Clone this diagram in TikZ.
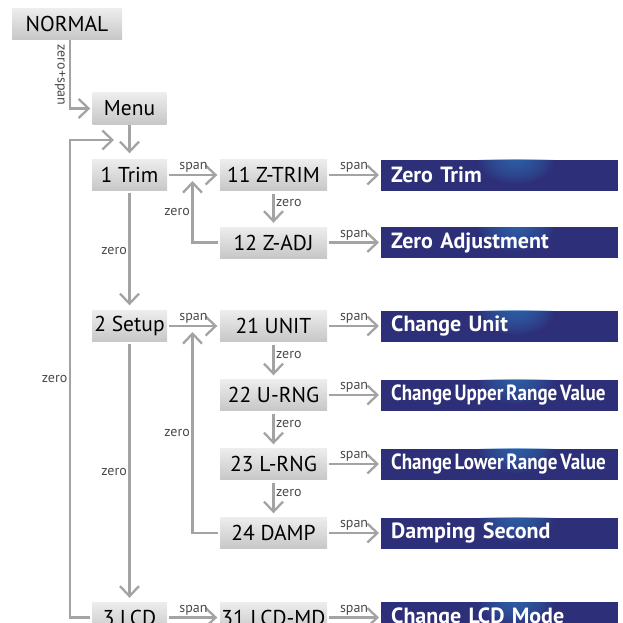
\documentclass[tikz,border=0pt]{standalone}
\usepackage{fontspec}
\usepackage{graphicx}
\setmainfont{PT Sans}
\usetikzlibrary{arrows.meta,calc}
\definecolor{linegray}{HTML}{A3A3A3}
\definecolor{navy}{HTML}{2D2F78}
\definecolor{glow}{HTML}{3A78C0}
\definecolor{labelgray}{HTML}{4A4A4A}
\definecolor{boxtop}{HTML}{EDEDED}
\definecolor{boxbot}{HTML}{C6C7C6}
\newcommand{\tightlabel}[1]{\scalebox{0.865}[1]{\spaceskip=3.2pt\relax #1}}
\tikzset{
 graybox/.style={minimum height=31pt, inner sep=0pt, top color=boxtop, bottom color=boxbot, font=\fontsize{21.5}{21.5}\selectfont, text=black},
 mainbox/.style={graybox, minimum width=75pt},
 subbox/.style={graybox, minimum width=107pt},
 bluebox/.style={minimum height=31pt, text width=217pt, inner xsep=10pt, inner ysep=0pt, align=left, fill=navy, text=white, font=\fontsize{22}{22}\selectfont\bfseries, anchor=west,
   execute at begin node={\hbox\bgroup}, execute at end node={\egroup},
   path picture={
     \coordinate (gc) at ($(path picture bounding box.north west)!0.57!(path picture bounding box.north east)$);
     \foreach \r in {1,...,14} {\fill[glow, opacity=0.075] (gc) ellipse [x radius=2.7*\r pt, y radius=1.75*\r pt];}
   }},
 arr/.style={draw=linegray, line width=2.3pt, -{Straight Barb[length=10pt,width=19pt]}},
 lbl/.style={font=\fontsize{14}{14}\selectfont, text=labelgray, inner sep=1.5pt},
}
\begin{document}
\begin{tikzpicture}[x=1pt,y=-1pt]
\useasboundingbox (0,0) rectangle (622,623);
\clip (0,0) rectangle (622,623);
% nodes
\node[graybox, minimum width=110pt] (normal) at (67,24) {NORMAL};
\node[graybox, minimum width=74pt] (menu) at (129.5,108.5) {Menu};
\node[mainbox] (trim) at (129.5,175) {1 Trim};
\node[subbox] (ztrim) at (273.5,175) {11 Z-TRIM};
\node[bluebox] (bztrim) at (381,175) {Zero Trim};
\node[subbox] (zadj) at (273.5,242.5) {12 Z-ADJ};
\node[bluebox] (bzadj) at (381,242.5) {Zero Adjustment};
\node[mainbox] (setup) at (129.5,326) {2 Setup};
\node[subbox] (unit) at (273.5,326) {21 UNIT};
\node[bluebox] (bunit) at (381,326) {Change Unit};
\node[subbox] (urng) at (273.5,395) {22 U-RNG};
\node[bluebox] (burng) at (381,395) {\tightlabel{Change Upper Range Value}};
\node[subbox] (lrng) at (273.5,464) {23 L-RNG};
\node[bluebox] (blrng) at (381,464) {\tightlabel{Change Lower Range Value}};
\node[subbox] (damp) at (273.5,533) {24 DAMP};
\node[bluebox] (bdamp) at (381,533) {Damping Second};
\node[mainbox] (lcd) at (129.5,617.5) {3 LCD};
\node[subbox] (lcdmd) at (273.5,617.5) {31 LCD-MD};
\node[bluebox] (blcdmd) at (381,617.5) {Change LCD Mode};
% helper coordinates
\coordinate (nx) at (70,0);
\coordinate (lt) at (70,140);
\coordinate (ltip) at (114,140);
\coordinate (t1) at (192.5,181);
\coordinate (t2) at (192.5,332);
% normal -> menu
\draw[arr, shorten >=2pt] (normal.south -| nx) |- (menu.west);
\node[lbl, rotate=-90] (zslbl) at (60,75) {zero+span};
% menu -> trim
\draw[arr, shorten <=1pt, shorten >=6pt] (menu) -- (trim);
% horizontal span arrows
\draw[arr, shorten <=2pt, shorten >=2.5pt] (trim) -- node[lbl, above]{span} (ztrim);
\draw[arr, shorten <=2pt, shorten >=2pt] (ztrim) -- node[lbl, above]{span} (bztrim);
\draw[arr, shorten <=2pt, shorten >=2pt] (zadj) -- node[lbl, above]{span} (bzadj);
\draw[arr, shorten <=2pt, shorten >=2.5pt] (setup) -- node[lbl, above]{span} (unit);
\draw[arr, shorten <=2pt, shorten >=2pt] (unit) -- node[lbl, above]{span} (bunit);
\draw[arr, shorten <=2pt, shorten >=2pt] (urng) -- node[lbl, above]{span} (burng);
\draw[arr, shorten <=2pt, shorten >=2pt] (lrng) -- node[lbl, above]{span} (blrng);
\draw[arr, shorten <=2pt, shorten >=2pt] (damp) -- node[lbl, above]{span} (bdamp);
\draw[arr, shorten <=2pt, shorten >=2.5pt] (lcd) -- node[lbl, above]{span} (lcdmd);
\draw[arr, shorten <=2pt, shorten >=2pt] (lcdmd) -- node[lbl, above]{span} (blcdmd);
% vertical zero arrows
\draw[arr, shorten <=3pt, shorten >=4pt] (ztrim) -- node[lbl, right, pos=0.35]{zero} (zadj);
\draw[arr, shorten <=3pt, shorten >=4pt] (unit) -- node[lbl, right, pos=0.35]{zero} (urng);
\draw[arr, shorten <=3pt, shorten >=4pt] (urng) -- node[lbl, right, pos=0.35]{zero} (lrng);
\draw[arr, shorten <=3pt, shorten >=4pt] (lrng) -- node[lbl, right, pos=0.35]{zero} (damp);
\draw[arr, shorten <=2pt, shorten >=5pt] (trim) -- node[lbl, left]{zero} (setup);
\draw[arr, shorten <=2pt, shorten >=4pt] (setup) -- node[lbl, left]{zero} (lcd);
% loops back
\draw[arr, shorten <=2pt] (zadj.west) -| node[lbl, left, pos=0.75]{zero} (t1);
\draw[arr, shorten <=2pt] (damp.west) -| node[lbl, left, pos=0.75]{zero} (t2);
\draw[arr, shorten <=2pt] (lcd.west) -| node[lbl, left, pos=0.75]{zero} (lt) -- (ltip);
\end{tikzpicture}
\end{document}
